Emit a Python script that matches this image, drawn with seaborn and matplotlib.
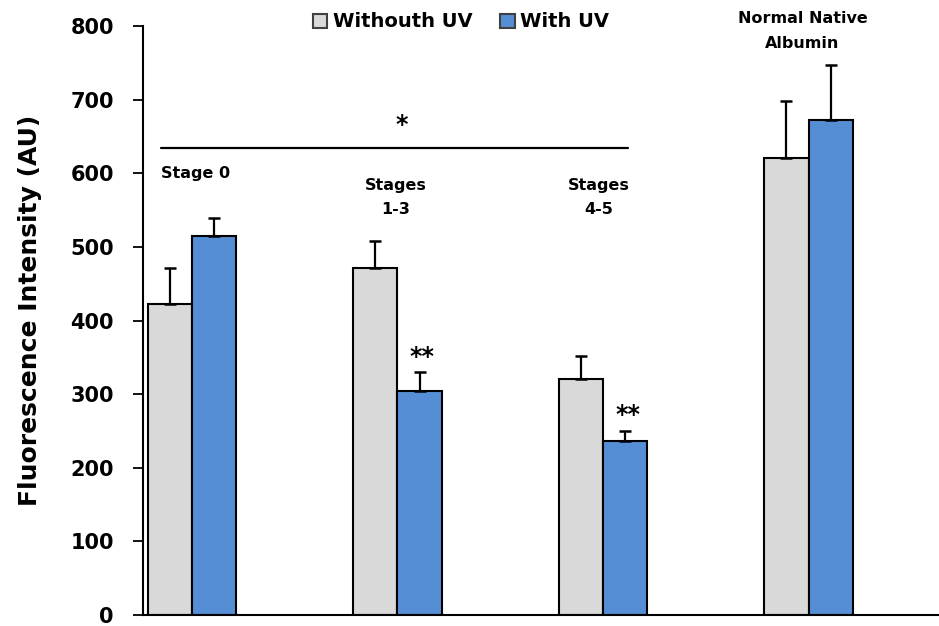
import pandas as pd
import numpy as np
import matplotlib
matplotlib.use('Agg')
import matplotlib.pyplot as plt
import seaborn as sns

# Data
groups = ['Stage 0', 'Stages 1-3', 'Stages 4-5', 'Normal Native Albumin']
without_uv = [422, 471, 321, 621]
without_uv_err = [50, 37, 31, 77]
with_uv = [515, 304, 236, 672]
with_uv_err = [25, 26, 14, 75]
group_labels = ['Stage 0', 'Stages\n1-3', 'Stages\n4-5', 'Normal Native\nAlbumin']
series = ['Withouth UV', 'With UV']

df = pd.DataFrame({
    'group': groups * 2,
    'condition': [series[0]] * 4 + [series[1]] * 4,
    'value': without_uv + with_uv,
    'err': without_uv_err + with_uv_err,
})

sns.set_style('white')
plt.rcParams['font.family'] = ['DejaVu Sans']
plt.rcParams['font.weight'] = 'bold'
plt.rcParams['text.color'] = 'black'
plt.rcParams['axes.labelcolor'] = 'black'
plt.rcParams['ytick.color'] = 'black'
plt.rcParams['xtick.color'] = 'black'

fig = plt.figure(figsize=(9.39, 6.26), dpi=100)
ax = fig.add_axes([0.1523, 0.0176, 0.8467, 0.9404])

sns.barplot(data=df, x='group', y='value', hue='condition', order=groups,
            hue_order=series, palette=['#D9D9D9', '#558ED5'], width=0.43,
            errorbar=None, edgecolor='black', linewidth=1.5, saturation=1,
            ax=ax)

# upper-only error bars, placed on the bars seaborn drew
for cont, errs in zip(ax.containers, [without_uv_err, with_uv_err]):
    xs = [p.get_x() + p.get_width() / 2 for p in cont.patches]
    ys = [p.get_height() for p in cont.patches]
    ax.errorbar(xs, ys, yerr=[np.zeros(len(errs)), errs], fmt='none',
                ecolor='black', elinewidth=1.6, capsize=4.5, capthick=1.8, zorder=1)

ax.set_ylim(0, 800)
ax.set_xlim(-0.238, 3.63)
ax.set_yticks(range(0, 801, 100))
ax.tick_params(axis='y', labelsize=15, length=7, width=1.3, direction='out', left=True, pad=14)
ax.tick_params(axis='x', bottom=False, labelbottom=False)
for lbl in ax.get_yticklabels():
    lbl.set_fontweight('bold')
ax.set_xlabel('')
ax.set_ylabel('Fluorescence Intensity (AU)', fontsize=18, fontweight='bold')
ax.yaxis.set_label_coords(-0.127, 0.518)
sns.despine(ax=ax)
for s in ['left', 'bottom']:
    ax.spines[s].set_linewidth(1.5)
    ax.spines[s].set_color('black')

# group labels
ax.text(-0.15, 600, group_labels[0], ha='left', va='center', fontsize=11.5, fontweight='bold')
ax.text(0.99, 568, group_labels[1], ha='center', va='center', fontsize=11.5, fontweight='bold', linespacing=1.75)
ax.text(1.98, 568, group_labels[2], ha='center', va='center', fontsize=11.5, fontweight='bold', linespacing=1.75)
ax.text(2.97, 794, group_labels[3], ha='center', va='center', fontsize=11.5, fontweight='bold', linespacing=1.85)

# significance markers
ax.plot([-0.15, 2.12], [634, 634], color='black', lw=1.6)
ax.text(1.02, 666, '*', ha='center', va='center', fontsize=17, fontweight='bold')
ax.text(1.12, 350, '**', ha='center', va='center', fontsize=17, fontweight='bold')
ax.text(2.12, 272, '**', ha='center', va='center', fontsize=17, fontweight='bold')

leg = ax.legend(loc='center', bbox_to_anchor=(0.491, 0.965), bbox_transform=fig.transFigure,
                ncol=2, frameon=False, handlelength=0.75, handleheight=0.75,
                handletextpad=0.3, columnspacing=1.4, prop={'weight': 'bold', 'size': 14})
for h in leg.legend_handles:
    h.set_edgecolor('#404040')
    h.set_linewidth(1.5)

fig.savefig('out.png', dpi=100)
